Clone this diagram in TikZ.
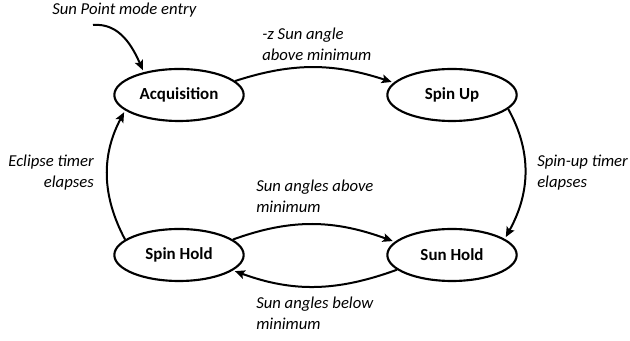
\documentclass[tikz,border=0pt]{standalone}
\usepackage{fontspec}
\setmainfont{Carlito}
\usetikzlibrary{arrows.meta,shapes.geometric}

\begin{document}
\begin{tikzpicture}[x=0.75pt, y=0.75pt,
  state/.style={ellipse, draw, line width=1.6pt, minimum width=97pt,
    minimum height=39pt, inner sep=0pt,
    font=\fontsize{12.7}{15}\selectfont\bfseries},
  trans/.style={-{Stealth[length=7.5pt,width=6.5pt,inset=1.5pt]},
    line width=1.5pt, shorten >=1.5pt},
  cond/.style={font=\fontsize{12.5}{16}\selectfont\itshape, inner sep=0pt}]

% ── Canvas (pixel units, origin bottom left) ─────────────────────────
\useasboundingbox (0,0) rectangle (630,341);

% ── States ───────────────────────────────────────────────────────────
\node[state] (acq)      at (179,246) {Acquisition};
\node[state] (spinup)   at (452,246) {Spin Up};
\node[state] (spinhold) at (179,86)  {Spin Hold};
\node[state] (sunhold)  at (452,86)  {Sun Hold};

% ── Entry into the mode ──────────────────────────────────────────────
\coordinate (entry) at (93,316);
\node[cond, anchor=base west] (entrylbl) at (52,326) {Sun Point mode entry};

% ── Transitions ──────────────────────────────────────────────────────
\draw[trans] (entry) to[out=5, in=114] (acq.147);
\draw[trans] (acq.14) to[out=18, in=162] (spinup.168);
\draw[trans] (spinup.-14) to[out=-61, in=61] (sunhold.17);
\draw[trans] (spinhold.16) to[out=20, in=160] (sunhold.167);
\draw[trans] (sunhold.195) to[out=200, in=-20] (spinhold.344);
\draw[trans] (spinhold.164) to[out=118, in=-118] (acq.196);

% ── Transition conditions (anchored at the last line) ────────────────
\node[cond, anchor=base west, align=left] (anglelbl) at (262,280)
  {-z Sun angle\\above minimum};
\node[cond, anchor=base west, align=left] (spinuplbl) at (537,153)
  {Spin-up timer\\elapses};
\node[cond, anchor=base east, align=right] (eclipselbl) at (94,153)
  {Eclipse timer\\elapses};
\node[cond, anchor=base west, align=left] (abovelbl) at (256,128)
  {Sun angles above\\minimum};
\node[cond, anchor=base west, align=left] (belowlbl) at (256,11)
  {Sun angles below\\minimum};

\end{tikzpicture}
\end{document}
